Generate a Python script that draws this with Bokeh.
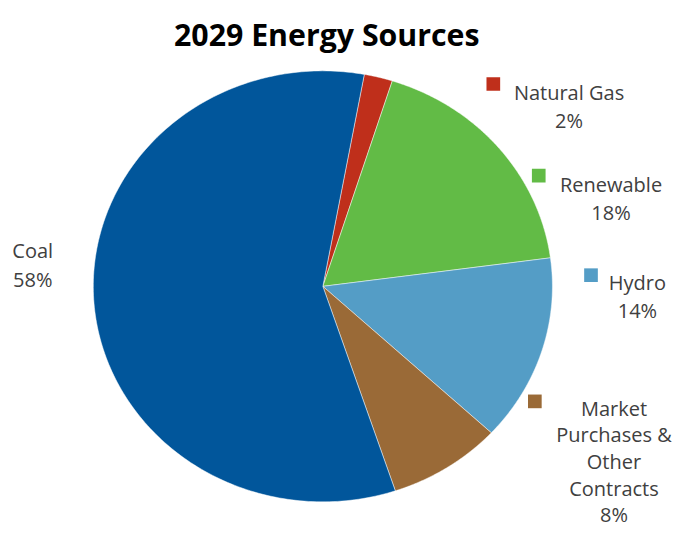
import numpy as np
from bokeh.plotting import figure
from bokeh.models import Range1d
from bokeh.core.properties import value
from bokeh.embed import file_html
from bokeh.resources import INLINE

# ---- data ----
title_text = "2029 Energy Sources"
categories = ["Natural Gas", "Renewable", "Hydro", "Market\nPurchases &\nOther\nContracts", "Coal"]
percents = [2, 18, 14, 8, 58]
colors = ["#BF2F1B", "#62BB46", "#549DC6", "#9A6A37", "#01569B"]

# ---- layout: data units = reference pixels (691x545, y downward) ----
REF_W, REF_H = 691, 545
W, H = 675, 529
s = W / REF_W
cx, cy, rx, ry = 330, 294.5, 235, 222
start_deg = 10.4  # clockwise from 12 o'clock

p = figure(width=W, height=H, output_backend="svg", toolbar_location=None,
           x_range=Range1d(0, REF_W), y_range=Range1d(REF_H, 0),
           min_border=0, outline_line_color=None)
p.axis.visible = False
p.grid.visible = False
p.background_fill_color = "white"
p.border_fill_color = "white"

total = float(sum(percents))
angles = np.cumsum([0] + [v / total * 360 for v in percents]) + start_deg
xs, ys = [], []
for i in range(len(percents)):
    t = np.radians(np.linspace(angles[i], angles[i + 1], 200))
    xs.append([cx] + list(cx + rx * np.sin(t)) + [cx])
    ys.append([cy] + list(cy - ry * np.cos(t)) + [cy])
p.patches(xs=xs, ys=ys, fill_color=colors, line_color="white", line_width=0.8, line_alpha=0.6)

# title
p.text(x=[334], y=[35], text=[title_text], text_font=value("Open Sans"), text_font_style="bold",
       text_font_size=f"{31 * s:.1f}px", text_color="black", text_align="center",
       text_baseline="alphabetic")

# labels: (text center x, first baseline y, marker center or None, line gap)
label_pos = [(582, 94.5, (504.5, 86), 29.0),
             (625, 189.5, (551, 180.5), 29.0),
             (652, 290.5, (604.5, 283), 29.0),
             (628, 420, (547, 413), 27.5),
             (33, 258, None, 29.0)]
tx, ty, tt = [], [], []
mx, my, mc = [], [], []
for cat, pct, col, (lx, ly, mk, gap) in zip(categories, percents, colors, label_pos):
    lines = cat.split("\n") + [f"{pct}%"]
    for j, ln in enumerate(lines):
        tx.append(lx); ty.append(ly + j * gap); tt.append(ln)
    if mk is not None:
        mx.append(mk[0]); my.append(mk[1]); mc.append(col)

p.text(x=tx, y=ty, text=tt, text_font=value("Open Sans"), text_font_size=f"{20.5 * s:.1f}px",
       text_color="#404040", text_align="center", text_baseline="alphabetic")
p.scatter(x=mx, y=my, marker="square", size=14 * s, fill_color=mc, line_color=None)

open("out.html", "w").write(file_html(p, INLINE))
